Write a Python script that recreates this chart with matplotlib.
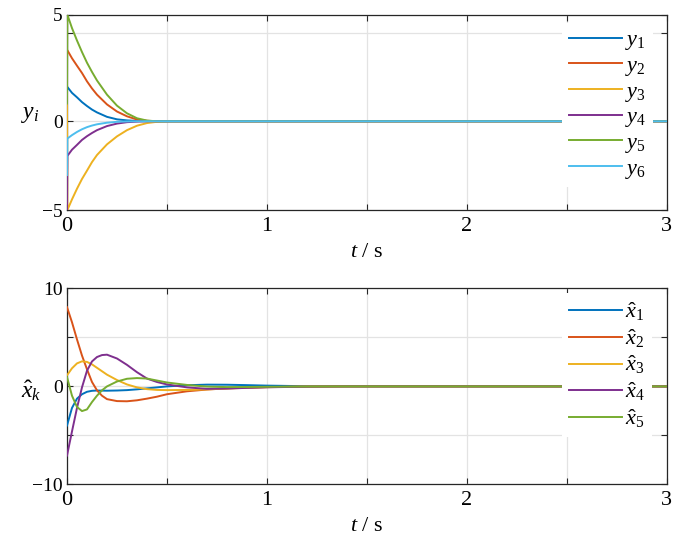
import matplotlib
matplotlib.use("Agg")
import matplotlib.pyplot as plt

plt.rcParams['font.family'] = ['Liberation Serif', 'DejaVu Serif']
plt.rcParams['mathtext.fontset'] = 'custom'
plt.rcParams['mathtext.rm'] = 'Liberation Serif'
plt.rcParams['mathtext.it'] = 'Liberation Serif:italic'
plt.rcParams['axes.unicode_minus'] = True

#--------------------------------
# data
t_top = [0, 0.002, 0.025, 0.05, 0.075, 0.1, 0.125, 0.15, 0.2, 0.25, 0.3, 0.35, 0.4, 0.45, 0.5, 3.0]
y1 = [1.93, 1.93, 1.6, 1.35, 1.08, 0.86, 0.66, 0.5, 0.25, 0.11, 0.05, 0.02, 0, 0, 0, 0]
y2 = [4.0, 4.0, 3.55, 3.13, 2.72, 2.25, 1.85, 1.5, 0.95, 0.55, 0.28, 0.1, 0.03, 0, 0, 0]
y3 = [1.0, -5.0, -4.4, -3.8, -3.25, -2.78, -2.3, -1.9, -1.3, -0.85, -0.5, -0.25, -0.1, -0.03, 0, 0]
y4 = [-5.0, -1.95, -1.6, -1.33, -1.05, -0.84, -0.66, -0.5, -0.27, -0.13, -0.05, -0.02, 0, 0, 0, 0]
y5 = [1.0, 6.0, 5.25, 4.55, 3.9, 3.3, 2.78, 2.3, 1.5, 0.88, 0.45, 0.17, 0.04, 0, 0, 0]
y6 = [-3.03, -0.97, -0.78, -0.6, -0.45, -0.33, -0.24, -0.17, -0.08, -0.03, -0.01, 0, 0, 0, 0, 0]

t_bot = [0, 0.025, 0.05, 0.075, 0.1, 0.125, 0.15, 0.175, 0.2, 0.25, 0.3, 0.35, 0.4, 0.45, 0.5,
         0.6, 0.7, 0.8, 0.9, 1.0, 1.2, 1.4, 3.0]
x1 = [-4.0, -2.2, -1.25, -0.8, -0.55, -0.45, -0.42, -0.43, -0.44, -0.42, -0.38, -0.3, -0.2, -0.1, 0.0,
      0.12, 0.18, 0.17, 0.13, 0.08, 0.02, 0, 0]
x2 = [8.1, 6.55, 4.8, 3.15, 1.75, 0.45, -0.4, -0.95, -1.3, -1.5, -1.52, -1.42, -1.25, -1.05, -0.8,
      -0.5, -0.32, -0.2, -0.12, -0.07, -0.02, 0, 0]
x3 = [1.13, 1.85, 2.35, 2.56, 2.5, 2.25, 1.9, 1.55, 1.2, 0.65, 0.2, -0.1, -0.28, -0.36, -0.38,
      -0.36, -0.3, -0.22, -0.14, -0.08, -0.02, 0, 0]
x4 = [-7.07, -4.6, -2.2, -0.1, 1.6, 2.55, 3.0, 3.2, 3.24, 2.85, 2.2, 1.45, 0.8, 0.45, 0.2,
      -0.1, -0.25, -0.22, -0.15, -0.09, -0.03, 0, 0]
x5 = [0.96, -0.95, -2.1, -2.52, -2.35, -1.6, -0.95, -0.4, 0.0, 0.5, 0.78, 0.85, 0.8, 0.6, 0.4,
      0.15, -0.02, -0.07, -0.06, -0.04, -0.01, 0, 0]

top_labels = [r'$y_1$', r'$y_2$', r'$y_3$', r'$y_4$', r'$y_5$', r'$y_6$']
bot_labels = [r'$\hat{x}_1$', r'$\hat{x}_2$', r'$\hat{x}_3$', r'$\hat{x}_4$', r'$\hat{x}_5$']
colors = ['#0072BD', '#D95319', '#EDB120', '#7E2F8E', '#77AC30', '#4DBEEE']

x_ticks = [0, 0.5, 1, 1.5, 2, 2.5, 3]
x_ticklabels = ['0', '', '1', '', '2', '', '3']
#--------------------------------

fig = plt.figure(figsize=(7, 5.47), dpi=100)
ax1 = fig.add_axes([0.0957, 0.616, 0.857, 0.357])
ax2 = fig.add_axes([0.0957, 0.1146, 0.857, 0.358])

ink = '#262626'


def style(ax):
    ax.set_xlim(0, 3)
    ax.set_xticks(x_ticks)
    ax.set_xticklabels(x_ticklabels, fontsize=16)
    ax.grid(True, color='#e3e3e3', lw=0.9)
    ax.set_axisbelow(True)
    for s in ax.spines.values():
        s.set_color(ink)
        s.set_linewidth(0.9)
    ax.tick_params(direction='in', length=4, width=0.8, colors=ink,
                   top=True, right=True, labelcolor='black')
    ax.tick_params(axis='x', pad=5)
    ax.tick_params(axis='y', labelsize=14, pad=3)
    ax.set_xlabel('$t$ / s', fontsize=16, labelpad=5)


for ys, c, lab in zip([y1, y2, y3, y4, y5, y6], colors, top_labels):
    ax1.plot(t_top, ys, color=c, lw=1.4, label=lab, zorder=3)
style(ax1)
ax1.set_ylim(-5, 6)
ax1.set_yticks([-5, 0, 5, 6])
ax1.set_yticklabels(['\u22125', '0', '', '5'])
ax1.set_ylabel(r'$y_i$', fontsize=17, rotation=0, va='center', ha='center')
ax1.yaxis.set_label_coords(-0.062, 0.49)

for xs, c, lab in zip([x1, x2, x3, x4, x5], colors, bot_labels):
    ax2.plot(t_bot, xs, color=c, lw=1.4, label=lab, zorder=3)
style(ax2)
ax2.set_ylim(-10, 10)
ax2.set_yticks([-10, -5, 0, 5, 10])
ax2.set_yticklabels(['\u221210', '', '0', '', '10'])
ax2.set_ylabel(r'$\hat{x}_k$', fontsize=17, rotation=0, va='center', ha='center')
ax2.yaxis.set_label_coords(-0.06, 0.48)

for ax, anchor, sp in [(ax1, (0.825, 0.957), 0.14), (ax2, (0.825, 0.975), 0.18)]:
    leg = ax.legend(loc='upper left', bbox_to_anchor=anchor, fontsize=16,
                    frameon=True, fancybox=False, framealpha=1, edgecolor='none',
                    facecolor='white', handlelength=2.4, handletextpad=0.15,
                    borderpad=0.3, borderaxespad=0, labelspacing=sp)
    leg.set_zorder(5)

fig.savefig('out.png', dpi=100)
